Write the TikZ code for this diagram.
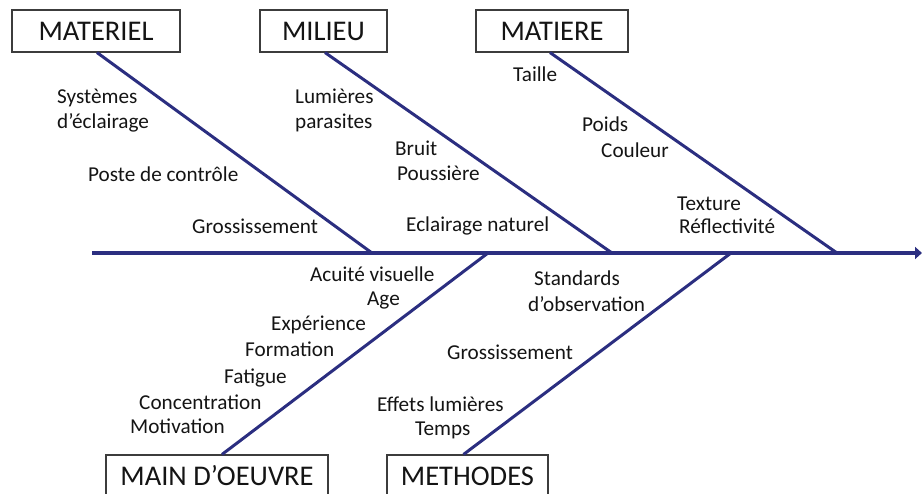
\documentclass[tikz,border=0pt]{standalone}
\usepackage{fontspec}
\setmainfont{Carlito}
\usetikzlibrary{arrows.meta}
\definecolor{navy}{RGB}{43,46,128}
\definecolor{boxline}{RGB}{60,60,60}
\definecolor{ink}{RGB}{20,20,20}
\tikzset{
  catbox/.style={draw=boxline, line width=1.1pt, fill=white, inner sep=0pt,
    minimum height=42pt, text=ink, font=\fontsize{28.5}{31}\selectfont},
  lbl/.style={inner sep=0pt, anchor=west, text height=0.64em, text depth=0pt,
    text=ink, font=\fontsize{21.2}{25}\selectfont},
  spine/.style={draw=navy, line width=4pt, -{Triangle[length=7pt,width=12pt]}},
  branch/.style={draw=navy, line width=3pt},
}
\begin{document}
\begin{tikzpicture}[x=1pt,y=-1pt]
\useasboundingbox (0,0) rectangle (922,494);
\clip (0,0) rectangle (922,494);

% category boxes
\node[catbox, minimum width=168pt] (materiel) at (96,31) {MATERIEL};
\node[catbox, minimum width=127pt] (milieu) at (323.5,31) {MILIEU};
\node[catbox, minimum width=152pt] (matiere) at (552,31) {MATIERE};
\node[catbox, minimum width=222pt] (main) at (217,476) {MAIN D’OEUVRE};
\node[catbox, minimum width=161pt] (methodes) at (467.5,476) {METHODES};

% spine
\coordinate (tail) at (92,253);
\coordinate (head) at (922,253);
\coordinate (j1) at (372,253);
\coordinate (j2) at (488,253);
\coordinate (j3) at (612,253);
\coordinate (j4) at (731,253);
\coordinate (j5) at (837,253);

\draw[branch] ([xshift=1pt]materiel.south) -- (j1);
\draw[branch] ([xshift=1.5pt]milieu.south) -- (j3);
\draw[branch] ([xshift=-2pt]matiere.south) -- (j5);
\draw[branch] ([xshift=5pt]main.north) -- (j2);
\draw[branch] ([xshift=-4pt]methodes.north) -- (j4);
\draw[spine] (tail) -- (head);

% MATERIEL causes
\node[lbl] (l1) at (57,100) {Systèmes};
\node[lbl] (l2) at (57,125) {d’éclairage};
\node[lbl] (l3) at (88,178) {Poste de contrôle};
\node[lbl] (l4) at (192,230) {Grossissement};
% MILIEU causes
\node[lbl] (l5) at (295,100) {Lumières};
\node[lbl] (l6) at (295,125) {parasites};
\node[lbl] (l7) at (395,152) {Bruit};
\node[lbl] (l8) at (397,177) {Poussière};
\node[lbl] (l9) at (406,228) {Eclairage naturel};
% MATIERE causes
\node[lbl] (l10) at (513,78) {Taille};
\node[lbl] (l11) at (582,128) {Poids};
\node[lbl] (l12) at (601,154) {Couleur};
\node[lbl] (l13) at (677,207) {Texture};
\node[lbl] (l14) at (679,230) {Réflectivité};
% MAIN D'OEUVRE causes
\node[lbl] (l15) at (310,278) {Acuité visuelle};
\node[lbl] (l16) at (367,302) {Age};
\node[lbl] (l17) at (271,327) {Expérience};
\node[lbl] (l18) at (245,353) {Formation};
\node[lbl] (l19) at (224,380) {Fatigue};
\node[lbl] (l20) at (139,406) {Concentration};
\node[lbl] (l21) at (130,430) {Motivation};
% METHODES causes
\node[lbl] (l22) at (534,282) {Standards};
\node[lbl] (l23) at (528,308) {d’observation};
\node[lbl] (l24) at (447,356) {Grossissement};
\node[lbl] (l25) at (377,408) {Effets lumières};
\node[lbl] (l26) at (415,432) {Temps};
\end{tikzpicture}
\end{document}
